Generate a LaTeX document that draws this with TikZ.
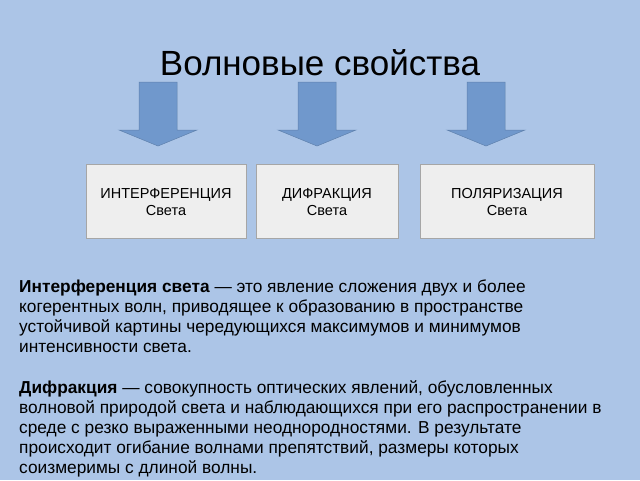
\documentclass[tikz,border=0pt]{standalone}
\usepackage{fontspec}
\setmainfont{Liberation Sans}
\begin{document}
\begin{tikzpicture}[x=1pt,y=-1pt,
  bg/.style={fill=bgblue},
  arr/.style={fill=arrblue,draw=arrblue!85!black,line width=0.5pt},
  box/.style={fill=boxgray,draw=gray!70,line width=0.5pt},
  lbl/.style={align=center,font=\fontsize{14.5}{17}\selectfont},
  body/.style={anchor=north west,align=left,inner sep=0pt,font=\fontsize{17.3}{20}\selectfont}]
\definecolor{bgblue}{RGB}{172,197,231}
\definecolor{arrblue}{RGB}{112,152,204}
\definecolor{boxgray}{RGB}{238,238,238}
\useasboundingbox[bg] (0,0) rectangle (640,480);
\node (title) at (320,63) {\fontsize{35}{40}\selectfont Волновые свойства};
\foreach \c/\n in {158/a1,317/a2,486/a3}{
  \draw[arr] (\c-19,82) -- (\c+19,82) -- (\c+19,130) -- (\c+39,130) -- (\c,146) -- (\c-39,130) -- (\c-19,130) -- cycle;
  \coordinate (\n) at (\c,146);
}
\draw[box] (86,164) rectangle (246,238);
\node[lbl] (b1) at (166,202) {ИНТЕРФЕРЕНЦИЯ\\Света};
\draw[box] (256,164) rectangle (398,238);
\node[lbl] (b2) at (327,202) {ДИФРАКЦИЯ\\Света};
\draw[box] (420,164) rectangle (594,238);
\node[lbl] (b3) at (507,202) {ПОЛЯРИЗАЦИЯ\\Света};
\node[body] (t1) at (19,280) {\textbf{Интерференция света} — это явление сложения двух и более\\когерентных волн, приводящее к образованию в пространстве\\устойчивой картины чередующихся максимумов и минимумов\\интенсивности света.};
\node[body] (t2) at (19,380) {\textbf{Дифракция} — совокупность оптических явлений, обусловленных\\волновой природой света и наблюдающихся при его распространении в\\среде с резко выраженными неоднородностями. В результате\\происходит огибание волнами препятствий, размеры которых\\соизмеримы с длиной волны.};
\end{tikzpicture}
\end{document}
